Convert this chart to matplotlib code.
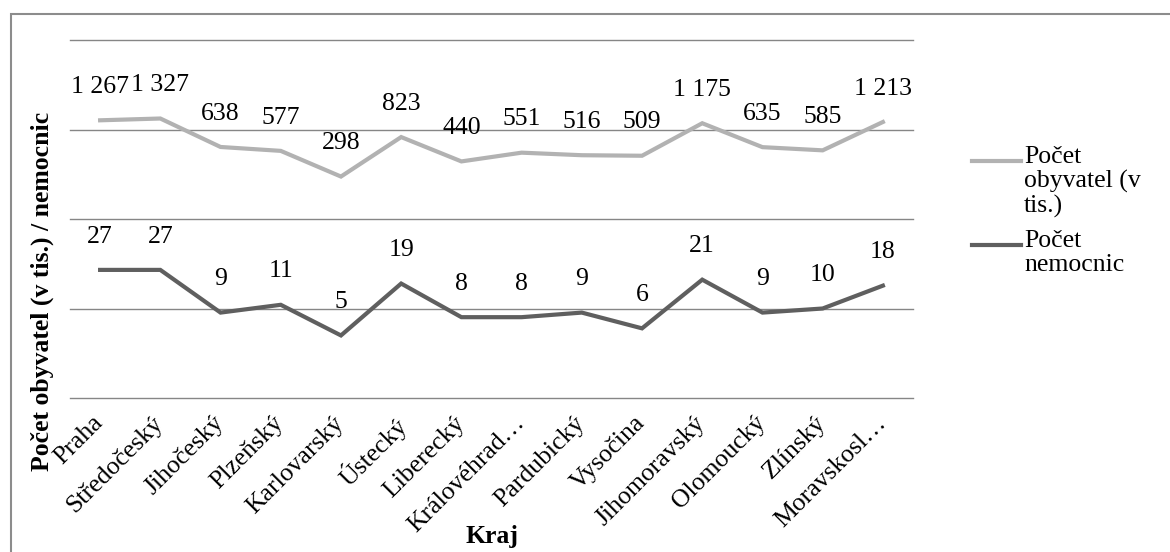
import numpy as np
import matplotlib.pyplot as plt
from matplotlib.lines import Line2D
from matplotlib.patches import Rectangle
from matplotlib.transforms import ScaledTranslation

plt.rcParams['font.family'] = ['Liberation Serif', 'DejaVu Serif']
FS = 18.5

# regions and their figures
kraje = ['Praha', 'Středočeský', 'Jihočeský', 'Plzeňský', 'Karlovarský', 'Ústecký',
         'Liberecký', 'Královéhrad…', 'Pardubický', 'Vysočina', 'Jihomoravský',
         'Olomoucký', 'Zlínský', 'Moravskosl…']
obyvatel = [1267, 1327, 638, 577, 298, 823, 440, 551, 516, 509, 1175, 635, 585, 1213]
nemocnic = [27, 27, 9, 11, 5, 19, 8, 8, 9, 6, 21, 9, 10, 18]
serie_nazvy = ['Počet\nobyvatel (v\ntis.)', 'Počet\nnemocnic']
barvy = ['#b2b2b2', '#5f5f5f']

fig = plt.figure(figsize=(11.7, 5.52), dpi=100)
ax = fig.add_axes([70/1170, 1-398/552, 843/1170, 358/552])

x = np.arange(len(kraje))
for vals, c in zip([obyvatel, nemocnic], barvy):
    ax.plot(x, vals, color=c, lw=3, solid_joinstyle='miter', zorder=3)
    for xi, v in zip(x, vals):
        ax.annotate(f'{v:,}'.replace(',', ' '), (xi, v), xytext=(0, 24),
                    textcoords='offset points', ha='center', va='center', fontsize=FS)

ax.set_yscale('log')
ax.set_ylim(1, 10000)
ax.set_xlim(-0.5, len(kraje) - 0.5)
ax.set_yticks([1, 10, 100, 1000, 10000])
ax.yaxis.set_minor_locator(plt.NullLocator())
ax.set_yticklabels([])
ax.grid(axis='y', color='#868686', lw=1)
for gl in ax.get_ygridlines():
    gl.set_clip_on(False)
ax.tick_params(length=0)
for s in ax.spines.values():
    s.set_visible(False)
ax.set_xticks(x)
ax.set_xticklabels(kraje, rotation=45, ha='right', va='top', rotation_mode='anchor',
                   fontsize=FS)
ax.tick_params(axis='x', pad=10)
posun = ScaledTranslation(-8/100, 0, fig.dpi_scale_trans)
for lbl in ax.get_xticklabels():
    lbl.set_transform(lbl.get_transform() + posun)

fig.text(42/1170, 1-291/552, 'Počet obyvatel (v tis.) / nemocnic', rotation=90,
         ha='center', va='center', fontsize=FS, fontweight='bold')
fig.text(492/1170, 1-537/552, 'Kraj', ha='center', va='center', fontsize=FS,
         fontweight='bold')

# legend drawn by hand so the line sits on the first text row
for nazev, c, yy in zip(serie_nazvy, barvy, [161, 245]):
    fig.add_artist(Line2D([972/1170, 1021/1170], [1-yy/552, 1-yy/552], color=c, lw=3))
    fig.text(1024/1170, 1-(yy-15)/552, nazev, ha='left', va='top', fontsize=FS,
             linespacing=1.1)

fig.add_artist(Rectangle((11/1170, -0.05), 1.1, 1.05-14/552, transform=fig.transFigure,
                         fill=False, edgecolor='#8c8c8c', lw=1.5))

fig.savefig('out.png', dpi=100)
